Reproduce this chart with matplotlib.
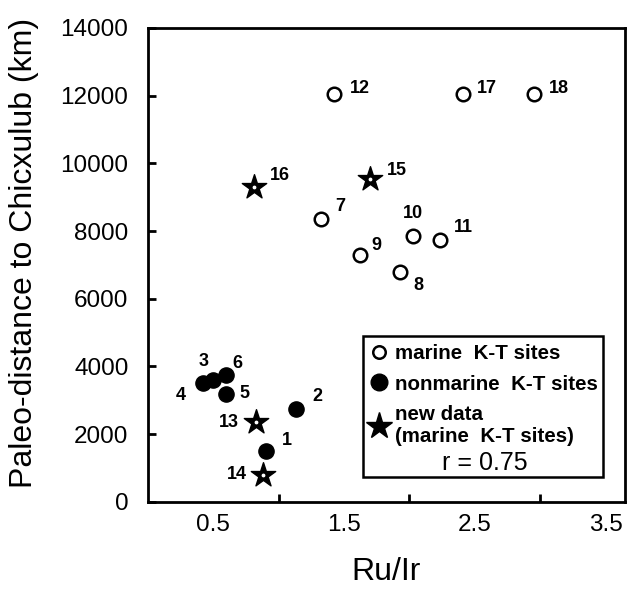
import matplotlib
matplotlib.use('Agg')
import matplotlib.pyplot as plt
from matplotlib.lines import Line2D
from matplotlib.patches import Rectangle

plt.rcParams['font.family'] = ['Liberation Sans', 'DejaVu Sans']

# marine K-T sites (open circles)
marine_ids = ['7', '8', '9', '10', '11', '12', '17', '18']
marine_ru_ir = [1.32, 1.93, 1.62, 2.03, 2.23, 1.42, 2.41, 2.95]
marine_dist = [8350, 6800, 7300, 7850, 7750, 12050, 12050, 12050]

# nonmarine K-T sites (filled circles)
nonmarine_ids = ['1', '2', '3', '4', '5', '6']
nonmarine_ru_ir = [0.90, 1.13, 0.50, 0.42, 0.60, 0.60]
nonmarine_dist = [1500, 2750, 3600, 3500, 3200, 3750]

# new data, marine K-T sites (stars)
new_ids = ['13', '14', '15', '16']
new_ru_ir = [0.83, 0.88, 1.70, 0.81]
new_dist = [2350, 800, 9550, 9300]

# label offsets in points (dx, dy)
offsets = {
    '1': (15, 8), '2': (16, 9), '3': (-7, 13), '4': (-16, -9), '5': (13, 0),
    '6': (8, 8), '7': (14, 9), '8': (13, -10), '9': (12, 7), '10': (0, 16),
    '11': (17, 9), '12': (19, 4), '13': (-20, 0), '14': (-19, 0),
    '15': (19, 6), '16': (19, 8), '17': (17, 4), '18': (18, 4),
}

fig = plt.figure(figsize=(6.4, 5.94), dpi=100)
ax = fig.add_axes([0.231, 0.155, 0.746, 0.798])

ax.scatter(marine_ru_ir, marine_dist, s=95, facecolors='white',
           edgecolors='black', linewidths=1.8, zorder=3)
ax.scatter(nonmarine_ru_ir, nonmarine_dist, s=120, color='black', zorder=3)
ax.scatter(new_ru_ir, new_dist, s=340, marker='*', color='black', zorder=3)
ax.scatter(new_ru_ir, new_dist, s=3, color='white', zorder=4)

for ids, xs, ys in [(marine_ids, marine_ru_ir, marine_dist),
                    (nonmarine_ids, nonmarine_ru_ir, nonmarine_dist),
                    (new_ids, new_ru_ir, new_dist)]:
    for lab, x, y in zip(ids, xs, ys):
        ax.annotate(lab, (x, y), xytext=offsets[lab], textcoords='offset points',
                    ha='center', va='center', fontsize=13, fontweight='bold')

ax.set_xlim(0, 3.65)
ax.set_ylim(0, 14000)

ax.set_xticks([0.5, 1.5, 2.5, 3.5])
ax.set_xticks([0.5, 1.0, 1.5, 2.0, 2.5, 3.0], minor=True)
ax.set_xticklabels(['0.5', '1.5', '2.5', '3.5'])
ax.tick_params(axis='x', which='major', length=0, pad=9, labelsize=17.5)
ax.tick_params(axis='x', which='minor', direction='in', length=6, width=2)

ax.set_yticks(range(0, 14001, 2000))
ax.tick_params(axis='y', direction='in', length=6, width=2, pad=14, labelsize=17.5)

for sp in ax.spines.values():
    sp.set_linewidth(2)

ax.set_xlabel('Ru/Ir', fontsize=23, labelpad=15)
ax.set_ylabel('Paleo-distance to Chicxulub (km)', fontsize=23)
ax.yaxis.set_label_coords(-0.228, 0.525)

# legend box
ax.add_patch(Rectangle((0.45, 0.053), 0.503, 0.297, transform=ax.transAxes,
                       fill=False, edgecolor='black', linewidth=1.8, zorder=5))
handles = [
    Line2D([], [], ls='none', marker='o', mfc='white', mec='black', mew=1.8, ms=9),
    Line2D([], [], ls='none', marker='o', color='black', ms=12),
    Line2D([], [], ls='none', marker='*', color='black', ms=20),
]
labels = ['marine  K-T sites', 'nonmarine  K-T sites',
          'new data\n(marine  K-T sites)']
leg = ax.legend(handles, labels, loc='upper left', bbox_to_anchor=(0.447, 0.35),
                frameon=False, handlelength=0.9, handletextpad=0.35,
                labelspacing=0.55, borderpad=0.4, borderaxespad=0,
                prop={'weight': 'bold', 'size': 14.8})
ax.text(0.705, 0.082, 'r = 0.75', transform=ax.transAxes, ha='center',
        va='center', fontsize=18)

fig.savefig('out.png', dpi=100)
